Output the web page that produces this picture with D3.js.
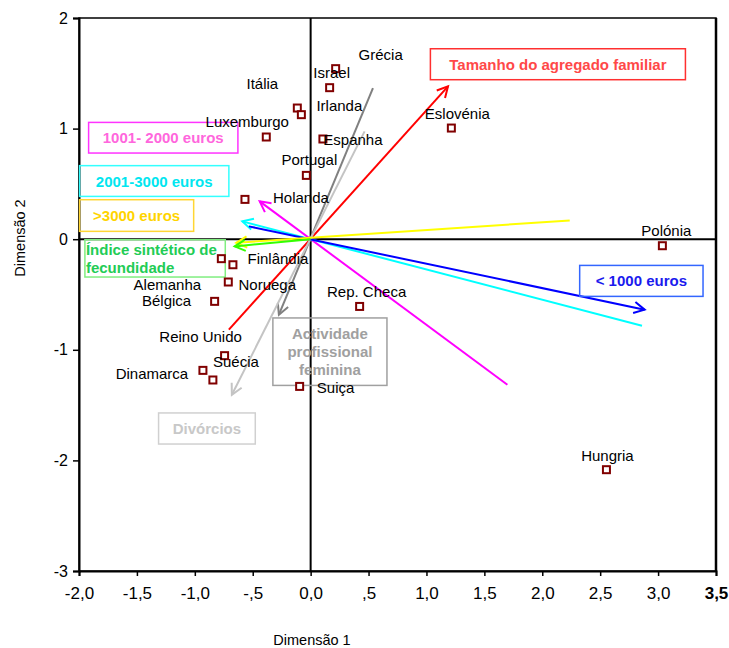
<!DOCTYPE html>
<html><head><meta charset="utf-8">
<script src="https://cdn.jsdelivr.net/npm/d3@7"></script>
<style>body{margin:0;background:#fff}</style>
</head><body>
<svg id="chart" width="729" height="648"></svg>
<script>
// ---------- DATA ----------
const xTickValues = [-2, -1.5, -1, -0.5, 0, 0.5, 1, 1.5, 2, 2.5, 3, 3.5];
const xTickLabels = ["-2,0", "-1,5", "-1,0", "-,5", "0,0", ",5", "1,0", "1,5", "2,0", "2,5", "3,0", "3,5"];
const yTickValues = [-3, -2, -1, 0, 1, 2];
const yTickLabels = ["-3", "-2", "-1", "0", "1", "2"];

const countries = ["Grécia", "Israel", "Itália", "Irlanda", "Luxemburgo", "Espanha", "Portugal", "Holanda",
  "Eslovénia", "Polónia", "Alemanha", "Finlândia", "Noruega", "Bélgica", "Rep. Checa", "Reino Unido",
  "Dinamarca", "Suécia", "Suiça", "Hungria"];
const dim1 = [0.216, 0.164, -0.115, -0.080, -0.383, 0.106, -0.037, -0.567,
  1.215, 3.037, -0.771, -0.671, -0.711, -0.829, 0.423, -0.743,
  -0.930, -0.844, -0.095, 2.554];
const dim2 = [1.542, 1.370, 1.186, 1.126, 0.924, 0.906, 0.577, 0.360,
  1.005, -0.059, -0.176, -0.231, -0.387, -0.562, -0.608, -1.053,
  -1.186, -1.273, -1.331, -2.084];

const vectorNames = ["Tamanho do agregado familiar", "Actividade profissional feminina", "Divórcios",
  "1001- 2000 euros", "2001-3000 euros", "< 1000 euros", ">3000 euros", "Índice sintético de fecundidade"];
const vecX1 = [-0.706, 0.538, 0.466, 1.699, 2.861, -0.533, 2.237, 0.000];
const vecY1 = [-0.818, 1.367, 0.975, -1.316, -0.782, 0.116, 0.170, 0.000];
const vecX2 = [1.186, -0.274, -0.680, -0.440, -0.590, 2.884, -0.642, -0.656];
const vecY2 = [1.382, -0.683, -1.406, 0.342, 0.161, -0.637, -0.032, -0.065];

// ---------- LAYOUT / STYLE ----------
const W = 729, H = 648;
const x = d3.scaleLinear().domain([-2, 3.5]).range([79, 716]);
const y = d3.scaleLinear().domain([-3, 2]).range([571, 18]);

const vecColors = ["#ff0000", "#808080", "#c4c4c4", "#ff00ff", "#00ffff", "#0000ff", "#ffff00", "#33ff00"];

// label offsets (px) from marker centre: [dx, dy baseline]
const labelOffsets = [[45, -9], [2, -10], [-35, -19], [38, -4], [-19, -10], [30, 6], [3, -10], [56, 4],
  [6, -9], [4, -10], [-54, 31], [45, -1], [39, 8], [-48, 5], [7, -9], [-24, -14],
  [-51, 9], [23, -13], [36, 7], [1, -9]];

// annotation boxes, in data coordinates [x0, y0(top), x1, y1(bottom)]
const boxes = [
  {lines: ["Tamanho do agregado familiar"], b: [1.034, 1.722, 3.236, 1.442], stroke: "#ff3030", fill: "#ff4848", align: "middle"},
  {lines: ["Actividade", "profissional", "feminina"], b: [-0.326, -0.712, 0.659, -1.322], stroke: "#a0a0a0", fill: "#a0a0a0", align: "middle", lh: 18},
  {lines: ["Divórcios"], b: [-1.313, -1.571, -0.478, -1.852], stroke: "#d0d0d0", fill: "#c8c8c8", align: "middle"},
  {lines: ["1001- 2000 euros"], b: [-1.917, 1.056, -0.628, 0.779], stroke: "#ff33ff", fill: "#ff66dd", align: "middle"},
  {lines: ["2001-3000 euros"], b: [-1.995, 0.665, -0.706, 0.387], stroke: "#33ffff", fill: "#00e6f0", align: "middle"},
  {lines: ["< 1000 euros"], b: [2.323, -0.237, 3.388, -0.517], stroke: "#3366ff", fill: "#1a1aee", align: "middle"},
  {lines: [">3000 euros"], b: [-1.995, 0.357, -1.010, 0.071], stroke: "#ffd633", fill: "#ffd400", align: "middle"},
  {lines: ["Índice sintético de", "fecundidade"], b: [-1.949, -0.005, -0.737, -0.342], stroke: "#80ee80", fill: "#22cc55", align: "start", lh: 17.5}
];

const svg = d3.select("#chart");
svg.append("rect").attr("width", W).attr("height", H).attr("fill", "#fff");

// frame
const [X0, X1] = x.range();
const [Y1, Y0] = y.range();
svg.append("rect").attr("x", X0).attr("y", Y0).attr("width", X1 - X0).attr("height", Y1 - Y0)
  .attr("fill", "none").attr("stroke", "#000").attr("stroke-width", 1.5);
svg.append("line").attr("x1", X1).attr("x2", X1).attr("y1", Y0).attr("y2", Y1).attr("stroke", "#000").attr("stroke-width", 2.5);

// crosshair at zero
svg.append("line").attr("x1", x(0)).attr("x2", x(0)).attr("y1", Y0).attr("y2", Y1).attr("stroke", "#000").attr("stroke-width", 2);
svg.append("line").attr("x1", X0).attr("x2", X1).attr("y1", y(0)).attr("y2", y(0)).attr("stroke", "#000").attr("stroke-width", 2);

// axes
const xAxis = d3.axisBottom(x).tickValues(xTickValues).tickSize(5).tickPadding(11)
  .tickFormat((d, i) => xTickLabels[i]);
const gx = svg.append("g").attr("transform", `translate(0,${Y1})`).call(xAxis);
gx.select(".domain").attr("stroke", "#000").attr("stroke-width", 2);
gx.selectAll(".tick line").attr("stroke", "#000").attr("stroke-width", 1.5);
gx.selectAll("text").attr("fill", "#000").style("font-family", "'Liberation Sans Narrow', 'Arial Narrow', sans-serif").style("font-size", "17px");
gx.selectAll(".tick").filter((d) => d === 3.5).select("text").style("font-weight", "bold");

const yAxis = d3.axisLeft(y).tickValues(yTickValues).tickSize(6).tickPadding(5)
  .tickFormat((d, i) => yTickLabels[i]);
const gy = svg.append("g").attr("transform", `translate(${X0},0)`).call(yAxis);
gy.select(".domain").attr("stroke", "#000").attr("stroke-width", 2);
gy.selectAll(".tick line").attr("stroke", "#000").attr("stroke-width", 1.5);
gy.selectAll("text").attr("fill", "#000").style("font-family", "'Liberation Sans', Arial, sans-serif").style("font-size", "16px");

// axis titles
svg.append("text").attr("x", 312).attr("y", 645).attr("text-anchor", "middle")
  .style("font-family", "'Liberation Sans', Arial, sans-serif").style("font-size", "14.5px").text("Dimensão 1");
svg.append("text").attr("transform", `translate(25,238) rotate(-90)`).attr("text-anchor", "middle")
  .style("font-family", "'Liberation Sans', Arial, sans-serif").style("font-size", "14.5px").text("Dimensão 2");

// vectors
const vecs = vectorNames.map((n, i) => ({n, x1: vecX1[i], y1: vecY1[i], x2: vecX2[i], y2: vecY2[i], c: vecColors[i]}));
const gv = svg.append("g");
vecs.forEach(v => {
  const px1 = x(v.x1), py1 = y(v.y1), px2 = x(v.x2), py2 = y(v.y2);
  gv.append("line").attr("x1", px1).attr("y1", py1).attr("x2", px2).attr("y2", py2)
    .attr("stroke", v.c).attr("stroke-width", 2);
  const ang = Math.atan2(py2 - py1, px2 - px1);
  const L = 12, a = Math.PI / 6.5;
  const p = `M${px2 - L * Math.cos(ang - a)},${py2 - L * Math.sin(ang - a)}L${px2},${py2}L${px2 - L * Math.cos(ang + a)},${py2 - L * Math.sin(ang + a)}`;
  gv.append("path").attr("d", p).attr("fill", "none").attr("stroke", v.c).attr("stroke-width", 2);
});

// boxes
boxes.forEach(bx => {
  const bx0 = x(bx.b[0]), by0 = y(bx.b[1]), bx1 = x(bx.b[2]), by1 = y(bx.b[3]);
  svg.append("rect").attr("x", bx0).attr("y", by0).attr("width", bx1 - bx0).attr("height", by1 - by0)
    .attr("fill", "none").attr("stroke", bx.stroke).attr("stroke-width", 1.5);
  const lh = bx.lh || 18;
  const n = bx.lines.length;
  const cy = (by0 + by1) / 2;
  bx.lines.forEach((t, i) => {
    svg.append("text")
      .attr("x", bx.align === "start" ? bx0 + 1 : (bx0 + bx1) / 2)
      .attr("y", cy + 5.5 + (i - (n - 1) / 2) * lh)
      .attr("text-anchor", bx.align)
      .attr("fill", bx.fill)
      .style("font-family", "'Liberation Sans', Arial, sans-serif")
      .style("font-size", "15px").style("font-weight", "bold")
      .text(t);
  });
});

// points
const pts = countries.map((c, i) => ({c, x: dim1[i], y: dim2[i], o: labelOffsets[i]}));
svg.append("g").selectAll("rect").data(pts).join("rect")
  .attr("x", d => x(d.x) - 3.5).attr("y", d => y(d.y) - 3.5).attr("width", 7).attr("height", 7)
  .attr("fill", "#fff").attr("stroke", "#800000").attr("stroke-width", 2);

svg.append("g").selectAll("text").data(pts).join("text")
  .attr("x", d => x(d.x) + d.o[0]).attr("y", d => y(d.y) + d.o[1])
  .attr("text-anchor", "middle")
  .style("font-family", "'Liberation Sans', Arial, sans-serif").style("font-size", "15px")
  .attr("fill", "#000")
  .text(d => d.c);
</script>
</body></html>
